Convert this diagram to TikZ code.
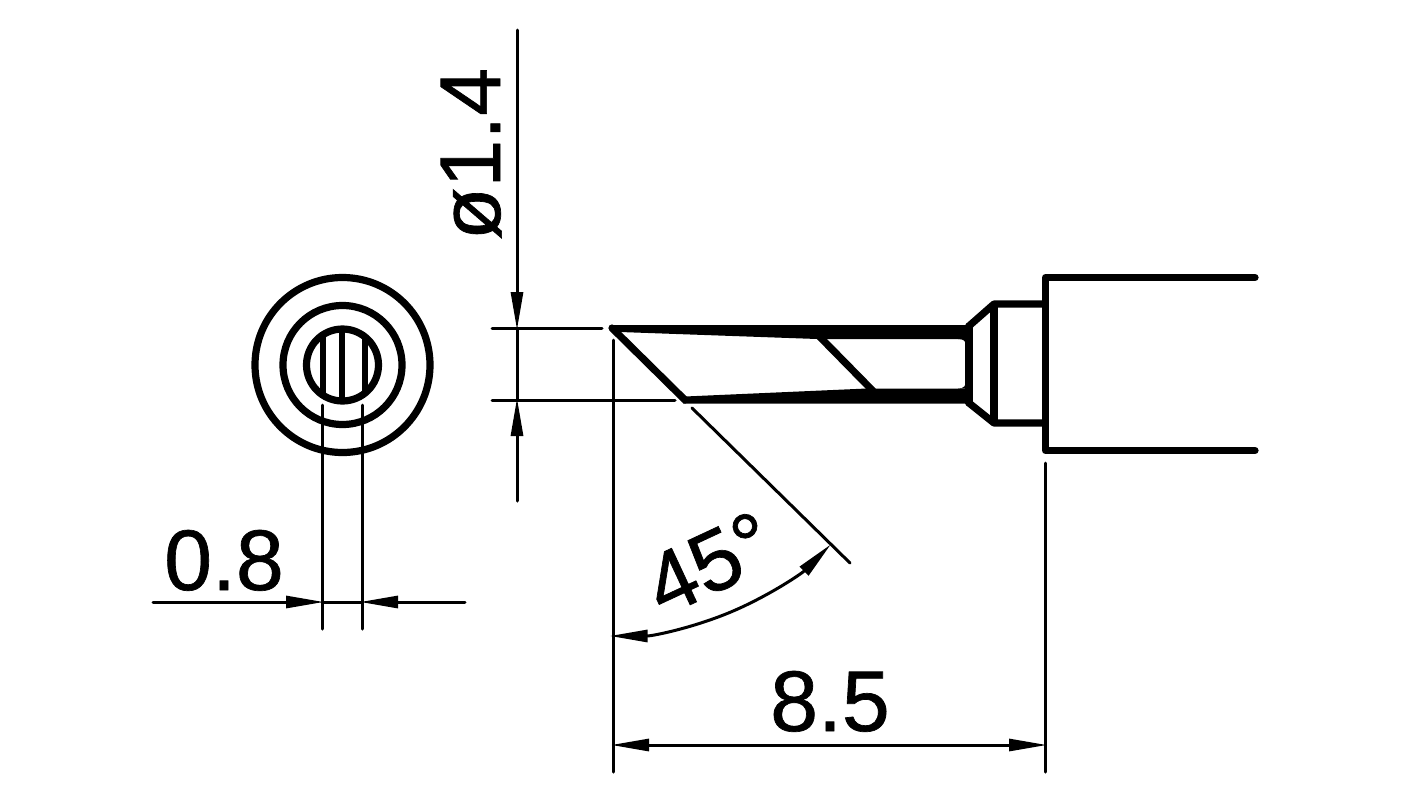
\documentclass[tikz,border=0pt]{standalone}
\usepackage{fontspec}
\setmainfont[FakeBold=0.8]{Liberation Sans}
\usetikzlibrary{arrows.meta}
\tikzset{
	outline/.style={line width=3.6pt,line join=round,line cap=round},
	dimline/.style={line width=1.5pt,line cap=round},
	dimarrow/.style={dimline,shorten >=-1pt,-{Triangle[length=19pt,width=6pt]}},
	dimtext/.style={inner sep=0pt,anchor=base,font=\fontsize{43}{43}\selectfont}
}
\begin{document}
\begin{tikzpicture}[x=0.5pt,y=-0.5pt]
\useasboundingbox (0,0) rectangle (1420,798);
%end view
\coordinate (hub) at (342.5,365);
\draw[outline] (hub) circle(87.5);
\draw[outline] (hub) circle(59.5);
\draw[outline] (hub) circle(36);
\begin{scope}
	\clip (hub) circle(36);
	\foreach \x in {323,342,365}{
		\draw[line width=3.2pt] (\x,320)--(\x,410);
	}
\end{scope}
%wedges of the tip
\coordinate (tipA) at (612,328);
\coordinate (tipB) at (685,400);
\fill (610,325)--(972,325)--(972,339)--(817,339)--(620,332)--cycle;
\fill (683,403.5)--(972,403.5)--(972,388.5)--(867,388.5)--(685,396.5)--cycle;
\fill (966,339)--(958,339) .. controls (964,339) and (966,341) .. (966,347)--cycle;
\fill (966,388.5)--(958,388.5) .. controls (964,388.5) and (966,386) .. (966,380)--cycle;
%bevel lines
\draw[outline] (tipA)--(tipB);
\draw[outline] (819,336)--(873,391);
%shank
\coordinate (neckT) at (969,326);
\coordinate (neckB) at (969,403);
\coordinate (collarT) at (994,304);
\coordinate (collarB) at (994,423);
\draw[outline] (neckT)--(neckB);
\draw[outline] (neckT)--(collarT)--(1044,304);
\draw[outline] (neckB)--(collarB)--(1044,423);
\draw[line width=3.6pt] (collarT)--(collarB);
%barrel
\coordinate (barrelT) at (1045.5,277.5);
\coordinate (barrelB) at (1045.5,450.5);
\draw[outline] (1255,277.5)--(barrelT)--(barrelB)--(1255,450.5);
%dimension 1.4
\coordinate (diaTop) at (517,30);
\coordinate (diaA) at (517,328);
\coordinate (diaB) at (517,400);
\coordinate (diaEnd) at (517,501);
\draw[dimline] (492,328)--(602,328);
\draw[dimline] (492,400)--(675,400);
\draw[dimarrow] (diaTop)--(diaA);
\draw[dimline] (diaA)--(diaB);
\draw[dimarrow] (diaEnd)--(diaB);
\node[dimtext,rotate=90] (diaText) at (500,154) {ø1.4};
%dimension 0.8
\draw[dimline] (322,405)--(322,629);
\draw[dimline] (362,405)--(362,629);
\coordinate (flatL) at (153,602);
\coordinate (flatA) at (322,602);
\coordinate (flatB) at (362,602);
\coordinate (flatR) at (465,602);
\draw[dimarrow] (flatL)--(flatA);
\draw[dimline] (flatA)--(flatB);
\draw[dimarrow] (flatR)--(flatB);
\node[dimtext] (flatText) at (224,590) {0.8};
%dimension 8.5
\coordinate (lenA) at (613,745);
\coordinate (lenB) at (1045,745);
\coordinate (lenMid) at (829,745);
\draw[dimline] (613,340)--(613,772);
\draw[dimline] (1045,463)--(1045,772);
\draw[dimarrow] (lenMid)--(lenA);
\draw[dimarrow] (lenMid)--(lenB);
\node[dimtext] (lenText) at (830,731) {8.5};
%angle
\coordinate (angS) at (692,408);
\coordinate (angE) at (850,563);
\coordinate (angMid) at (732,611.5);
\draw[dimline] (angS)--(angE);
\draw[dimarrow] (angMid) arc[start angle=67,end angle=90,radius=308];
\draw[dimarrow] (angMid) arc[start angle=67,end angle=45,radius=308];
\node[dimtext,rotate=25] (angText) at (722,590) {45°};
\end{tikzpicture}
\end{document}
